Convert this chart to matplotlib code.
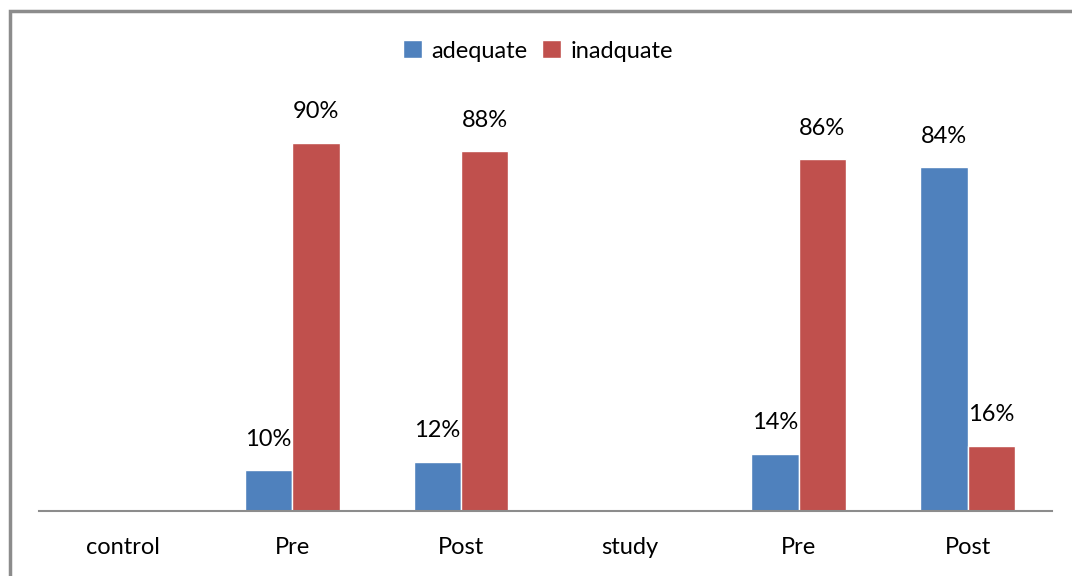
import numpy as np
import matplotlib.pyplot as plt
from matplotlib.patches import Rectangle

categories = ['control', 'Pre', 'Post', 'study', 'Pre', 'Post']
adequate = [np.nan, 10, 12, np.nan, 14, 84]
inadequate = [np.nan, 90, 88, np.nan, 86, 16]

blue = '#4F81BD'
red = '#C0504D'
plt.rcParams['font.family'] = ['Lato', 'DejaVu Sans']


def main():
    fig = plt.figure(figsize=(10.72, 5.76), dpi=100)
    W, H = 1072, 576
    ax = fig.add_axes([39 / W, (H - 511) / H, (1052 - 39) / W, (511 - 102) / H])

    # outer frame of the chart
    fig.patches.append(Rectangle((9.5 / W, -0.05), 1.1, (H - 11) / H + 0.05,
                                 transform=fig.transFigure, fill=False,
                                 edgecolor='#8c8c8c', linewidth=2.5))

    x = np.arange(len(categories))
    w = 0.28
    b1 = ax.bar(x - w / 2, adequate, w, color=blue, edgecolor='white',
                linewidth=1, label='adequate')
    b2 = ax.bar(x + w / 2, inadequate, w, color=red, edgecolor='white',
                linewidth=1, label='inadquate')

    for bars, vals in ((b1, adequate), (b2, inadequate)):
        for rect, v in zip(bars, vals):
            if np.isnan(v):
                continue
            ax.text(rect.get_x() + rect.get_width() / 2, v + 5.0, f'{v:.0f}%',
                    ha='center', va='bottom', fontsize=17)

    ax.set_xlim(-0.5, len(categories) - 0.5)
    ax.set_ylim(0, 100)
    ax.set_xticks(x)
    ax.set_xticklabels(categories, fontsize=17)
    ax.tick_params(axis='x', length=0, pad=19)
    ax.set_yticks([])
    for s in ('top', 'right', 'left'):
        ax.spines[s].set_visible(False)
    ax.spines['bottom'].set_color('#8c8c8c')
    ax.spines['bottom'].set_linewidth(1.5)

    fig.legend(loc='center', bbox_to_anchor=(538 / W, (H - 51) / H), ncols=2,
               frameon=False, fontsize=17, handlelength=0.8, handleheight=0.8,
               handletextpad=0.4, columnspacing=0.6)

    fig.savefig('out.png', dpi=100)


if __name__ == "__main__":
    main()
